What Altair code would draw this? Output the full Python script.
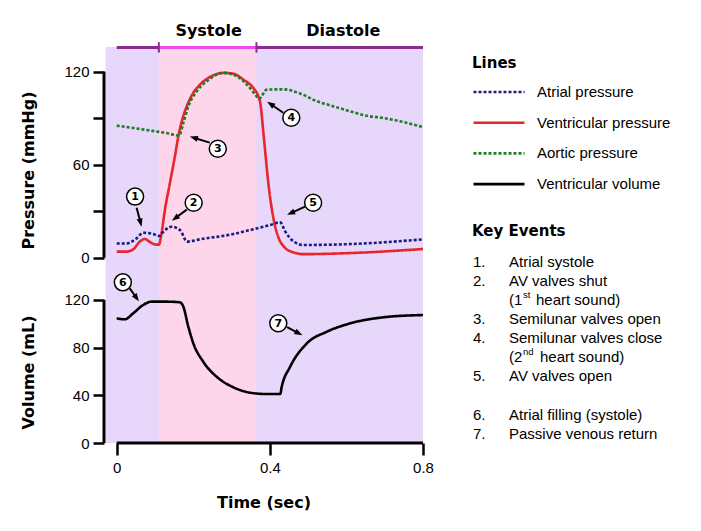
import math
import altair as alt
import pandas as pd

# ---------------- data ----------------
# Ventricular pressure (mmHg)
vp_t = [0.0, 0.025, 0.043, 0.060, 0.073, 0.086, 0.099, 0.110, 0.117, 0.126, 0.139, 0.152,
        0.161, 0.170, 0.183, 0.200, 0.218, 0.244, 0.279, 0.305, 0.331, 0.357, 0.370, 0.375,
        0.384, 0.397, 0.410, 0.423, 0.436, 0.462, 0.488, 0.610, 0.800]
vp_v = [3.9, 3.9, 5.4, 10.3, 12.1, 10.3, 8.6, 8.4, 15.7, 31.0, 48.2, 65.4,
        78.3, 88.0, 97.7, 106.3, 111.8, 116.6, 119.2, 118.7, 114.8, 109.4, 104.1, 99.8,
        78.3, 46.0, 24.5, 12.7, 7.3, 3.4, 2.3, 3.0, 5.6]

# Aortic pressure (mmHg)
ao_t = [0.0, 0.043, 0.086, 0.130, 0.163, 0.174, 0.187, 0.209, 0.235, 0.279, 0.314, 0.340,
        0.362, 0.372, 0.392, 0.436, 0.480, 0.523, 0.567, 0.610, 0.654, 0.697, 0.800]
ao_v = [85.2, 83.7, 82.1, 80.4, 78.8, 86.9, 97.6, 107.3, 113.7, 119.2, 117.0, 111.6,
        105.2, 102.5, 108.4, 108.6, 105.8, 100.9, 97.6, 94.4, 91.5, 90.1, 84.3]

# Atrial pressure (mmHg)
at_t = [0.0, 0.025, 0.052, 0.069, 0.095, 0.111, 0.122, 0.143, 0.165, 0.184, 0.218, 0.305,
        0.349, 0.401, 0.427, 0.440, 0.462, 0.488, 0.610, 0.800]
at_v = [9.2, 9.2, 12.5, 16.1, 15.3, 14.0, 16.8, 20.0, 17.9, 10.4, 11.9, 15.3,
        17.9, 21.1, 22.8, 17.0, 10.5, 8.2, 8.8, 11.8]

# Ventricular volume (mL)
vol_t = [0.0, 0.021, 0.043, 0.069, 0.091, 0.130, 0.165, 0.174, 0.187, 0.200, 0.226, 0.261,
         0.305, 0.349, 0.392, 0.427, 0.431, 0.453, 0.497, 0.549, 0.610, 0.697, 0.800]
vol_v = [104.6, 103.8, 108.8, 115.8, 118.6, 118.6, 118.1, 114.4, 97.6, 83.7, 68.2, 55.6,
         46.7, 42.2, 41.1, 41.1, 47.2, 64.0, 83.7, 93.4, 100.4, 105.5, 107.4]

series_names = ["Atrial pressure", "Ventricular pressure", "Aortic pressure", "Ventricular volume"]
series_colors = ["#1c1c80", "#e8262b", "#1e7d22", "#000000"]
series_dash = [[3, 2], [1, 0], [3, 2], [1, 0]]

# phases
phase_names = ["Systole", "Diastole"]
phase_label_t = [0.240, 0.592]
shade_start, systole_start, systole_end, cycle_end = -0.029, 0.11, 0.365, 0.8

# numbered annotations, pressure panel
ann_p_num = ["1", "2", "3", "4", "5"]
ann_p_t = [0.048, 0.201, 0.264, 0.456, 0.513]
ann_p_v = [39.4, 35.5, 70.3, 90.3, 35.5]
arr_p_t1 = [0.052, 0.183, 0.243, 0.435, 0.492]
arr_p_v1 = [32.3, 31.0, 74.2, 93.5, 32.9]
arr_p_t2 = [0.065, 0.144, 0.191, 0.393, 0.445]
arr_p_v2 = [20.0, 23.9, 78.1, 100.6, 27.7]
# numbered annotations, volume panel
ann_v_num = ["6", "7"]
ann_v_t = [0.016, 0.422]
ann_v_v = [134.8, 100.5]
arr_v_t1 = [0.034, 0.445]
arr_v_v1 = [129.8, 97.2]
arr_v_t2 = [0.058, 0.485]
arr_v_v2 = [118.9, 90.5]

# key events
event_nums = ["1.", "2.", "", "3.", "4.", "", "5.", "", "6.", "7."]
event_text = ["Atrial systole", "AV valves shut", "(1", "Semilunar valves open",
              "Semilunar valves close", "(2", "AV valves open", "",
              "Atrial filling (systole)", "Passive venous return"]
sup_rows = [2, 5]
sup_text = ["st", "nd"]
sup_rest = ["heart sound)", "heart sound)"]

p_ticks = [0, 30, 60, 90, 120]
v_ticks = [0, 40, 80, 120]
t_ticks = [0, 0.4, 0.8]

# ---------------- layout ----------------
W, H = 319, 396
x_dom = [-0.0332, 0.8]
p_dom = [-119.5, 135.9]
v_dom = [0.0, 332.3]
kx = W / (x_dom[1] - x_dom[0])
kp = H / (p_dom[1] - p_dom[0])
kv = H / (v_dom[1] - v_dom[0])

REG = "Liberation Sans"
BOLD = "DejaVu Sans"

xs = alt.Scale(domain=x_dom, nice=False, zero=False)
ps = alt.Scale(domain=p_dom, nice=False, zero=False)
vs = alt.Scale(domain=v_dom, nice=False, zero=False)

x_axis = alt.Axis(values=t_ticks, title="Time (sec)", domain=False, grid=False,
                  tickSize=12, tickWidth=2.5, tickColor="black",
                  labelFont=REG, labelFontSize=15, labelColor="black", labelPadding=5,
                  labelFlush=False, labelOverlap=False, format="~g",
                  titleFont=BOLD, titleFontSize=16, titleFontWeight="bold",
                  titleColor="black", titlePadding=19)


def X(f):
    return alt.X(f, type="quantitative", scale=xs, axis=x_axis)


def yaxis(vals, title, ty, expr):
    return alt.Axis(values=vals, orient="left", domain=False, grid=False,
                    tickSize=11, tickWidth=2.5, tickColor="black",
                    labelFont=REG, labelFontSize=15, labelColor="black", labelPadding=4,
                    labelFlush=False, labelOverlap=False, labelExpr=expr,
                    title=title, titleFont=BOLD, titleFontSize=16, titleFontWeight="bold",
                    titleColor="black", titleX=-76, titleY=ty, titleAngle=270,
                    titleAlign="center", titleBaseline="middle")


p_axis = yaxis(p_ticks, "Pressure (mmHg)", 123, "datum.value % 60 == 0 ? datum.label : ''")
v_axis = yaxis(v_ticks, "Volume (mL)", 325, "datum.label")

leg = alt.Legend(title="Lines", orient="none", legendX=368, legendY=9, direction="vertical",
                 symbolType="stroke", symbolSize=2601, symbolStrokeWidth=2.6,
                 clipHeight=16, rowPadding=14.7, titlePadding=13, labelOffset=11,
                 labelFont=REG, labelFontSize=15, labelColor="black",
                 titleFont=BOLD, titleFontSize=15, titleFontWeight="bold",
                 titleColor="black", padding=0, offset=0)
color = alt.Color("series:N", scale=alt.Scale(domain=series_names, range=series_colors), legend=leg)
dash = alt.StrokeDash("series:N", scale=alt.Scale(domain=series_names, range=series_dash), legend=leg)


def series_df(name, ts, vs_):
    return pd.DataFrame({"series": name, "t": ts, "v": vs_})


line_kw = dict(interpolate="monotone", strokeWidth=2.6, strokeCap="butt")

# ---------------- layers ----------------
bg = alt.Chart(pd.DataFrame({"a": [shade_start], "b": [cycle_end]})).mark_rect(
    color="#e6d7fb").encode(x=X("a"), x2="b")
bg_sys = alt.Chart(pd.DataFrame({"a": [systole_start], "b": [systole_end]})).mark_rect(
    color="#fdd6eb").encode(x=X("a"), x2="b")

red = alt.Chart(series_df(series_names[1], vp_t, vp_v)).mark_line(**line_kw).encode(
    x=X("t"), y=alt.Y("v:Q", scale=ps, axis=p_axis), color=color, strokeDash=dash)
atr = alt.Chart(series_df(series_names[0], at_t, at_v)).mark_line(**line_kw).encode(
    x=X("t"), y=alt.Y("v:Q", scale=ps, axis=None), color=color, strokeDash=dash)
aor = alt.Chart(series_df(series_names[2], ao_t, ao_v)).mark_line(**line_kw).encode(
    x=X("t"), y=alt.Y("v:Q", scale=ps, axis=None), color=color, strokeDash=dash)
vol = alt.Chart(series_df(series_names[3], vol_t, vol_v)).mark_line(**line_kw).encode(
    x=X("t"), y=alt.Y("v:Q", scale=vs, axis=v_axis), color=color, strokeDash=dash)

one = pd.DataFrame({"k": [0]})
p_axis_line = alt.Chart(one).mark_rule(color="black", strokeWidth=3).encode(
    x=alt.value(0), y=alt.Y(datum=p_ticks[0], scale=ps, axis=None), y2=alt.Y2(datum=p_ticks[-1]))
v_axis_line = alt.Chart(one).mark_rule(color="black", strokeWidth=3).encode(
    x=alt.value(0), y=alt.Y(datum=v_ticks[0], scale=vs, axis=None), y2=alt.Y2(datum=v_ticks[-1]))
x_axis_line = alt.Chart(one).mark_rule(color="black", strokeWidth=3).encode(
    x=alt.X(datum=t_ticks[0], scale=xs, axis=x_axis), x2=alt.X2(datum=t_ticks[-1]),
    y=alt.Y(datum=v_dom[0], scale=vs, axis=None))

# phase bar
bar_p = 135.5
phase_bar = alt.Chart(pd.DataFrame({"a": [0.0], "b": [cycle_end], "p": [bar_p]})).mark_rule(
    color="#8a2a8c", strokeWidth=3).encode(x=X("a"), x2="b", y=alt.Y("p:Q", scale=ps, axis=None))
phase_sys = alt.Chart(pd.DataFrame({"a": [systole_start], "b": [systole_end], "p": [bar_p]})).mark_rule(
    color="#ee48ee", strokeWidth=3).encode(x=X("a"), x2="b", y=alt.Y("p:Q", scale=ps, axis=None))
phase_ticks = alt.Chart(pd.DataFrame({"a": [systole_start, systole_end],
                                      "p1": [bar_p - 3.2] * 2, "p2": [bar_p + 3.5] * 2})).mark_rule(
    color="#8a2a8c", strokeWidth=2).encode(x=X("a"), y=alt.Y("p1:Q", scale=ps, axis=None), y2="p2")
phase_text = alt.Chart(pd.DataFrame({"t": phase_label_t, "p": [146.3] * 2, "label": phase_names})).mark_text(
    font=BOLD, fontSize=16, fontWeight="bold", color="black", baseline="middle", align="center").encode(
    x=X("t"), y=alt.Y("p:Q", scale=ps, axis=None), text="label:N")


def arrows(t1, v1, t2, v2, ky):
    rows = []
    for a, b, c, d in zip(t1, v1, t2, v2):
        dx = (c - a) * kx
        dy = -(d - b) * ky
        L = math.hypot(dx, dy)
        ang = math.degrees(math.atan2(dx, -dy)) % 360
        f = max(0.0, (L - 4.0) / L)
        rows.append({"t1": a, "v1": b, "t2": c, "v2": d,
                     "te": a + (c - a) * f, "ve": b + (d - b) * f, "ang": ang})
    return pd.DataFrame(rows)


head_path = "M0,0L1,2.7L-1,2.7Z"


def annot_layers(nums, ct, cv, t1, v1, t2, v2, ky, sc):
    adf = arrows(t1, v1, t2, v2, ky)
    shaft = alt.Chart(adf).mark_rule(color="black", strokeWidth=2).encode(
        x=X("t1"), x2="te", y=alt.Y("v1:Q", scale=sc, axis=None), y2="ve")
    head = alt.Chart(adf).mark_point(shape=head_path, filled=True, color="black", size=36, opacity=1).encode(
        x=X("t2"), y=alt.Y("v2:Q", scale=sc, axis=None), angle=alt.Angle("ang:Q", scale=None))
    cdf = pd.DataFrame({"t": ct, "v": cv, "n": nums})
    circ = alt.Chart(cdf).mark_point(shape="circle", filled=True, fill="white", stroke="black",
                                     strokeWidth=1.5, size=289, opacity=1).encode(
        x=X("t"), y=alt.Y("v:Q", scale=sc, axis=None))
    num = alt.Chart(cdf).mark_text(font=BOLD, fontWeight="bold", fontSize=11, color="black",
                                   baseline="middle", align="center", dy=0.5).encode(
        x=X("t"), y=alt.Y("v:Q", scale=sc, axis=None), text="n:N")
    return [shaft, head, circ, num]


ann_p = annot_layers(ann_p_num, ann_p_t, ann_p_v, arr_p_t1, arr_p_v1, arr_p_t2, arr_p_v2, kp, ps)
ann_v = annot_layers(ann_v_num, ann_v_t, ann_v_v, arr_v_t1, arr_v_v1, arr_v_t2, arr_v_v2, kv, vs)

# key events list
rows_scale = alt.Scale(domain=[0, 9], range=[214.7, 386.6])
ev_df = pd.DataFrame({"row": list(range(len(event_text))), "num": event_nums, "txt": event_text})
txt_kw = dict(font=REG, fontSize=15, color="black", baseline="middle", align="left")
ev_num = alt.Chart(ev_df).mark_text(**txt_kw).encode(
    x=alt.value(369), y=alt.Y("row:Q", scale=rows_scale, axis=None), text="num:N")
ev_txt = alt.Chart(ev_df).mark_text(**txt_kw).encode(
    x=alt.value(405), y=alt.Y("row:Q", scale=rows_scale, axis=None), text="txt:N")
sup_df = pd.DataFrame({"row": sup_rows, "sup": sup_text, "rest": sup_rest, "xr": [432, 436]})
ev_sup = alt.Chart(sup_df).mark_text(font=REG, fontSize=9.5, color="black", baseline="middle",
                                     align="left", dy=-5).encode(
    x=alt.value(419), y=alt.Y("row:Q", scale=rows_scale, axis=None), text="sup:N")
ev_rest = alt.Chart(sup_df).mark_text(**txt_kw).encode(
    x=alt.X("xr:Q", scale=None), y=alt.Y("row:Q", scale=rows_scale, axis=None), text="rest:N")
ev_title = alt.Chart(pd.DataFrame({"s": ["Key Events"]})).mark_text(
    font=BOLD, fontSize=15, fontWeight="bold", color="black", baseline="middle", align="left").encode(
    x=alt.value(368), y=alt.value(183.7), text="s:N")

layers = [bg, bg_sys, red, atr, aor, vol, p_axis_line, v_axis_line, x_axis_line,
          phase_bar, phase_sys, phase_ticks, phase_text] + ann_p + ann_v + \
         [ev_title, ev_num, ev_txt, ev_sup, ev_rest]

chart = alt.layer(*layers).resolve_scale(y="independent").properties(
    width=W, height=H,
    autosize=alt.AutoSizeParams(type="none"),
    padding={"left": 96, "top": 39, "right": 268, "bottom": 76},
    background="white",
).configure_view(stroke=None)

chart.save("out.html", embed_options={"renderer": "svg", "actions": False})
